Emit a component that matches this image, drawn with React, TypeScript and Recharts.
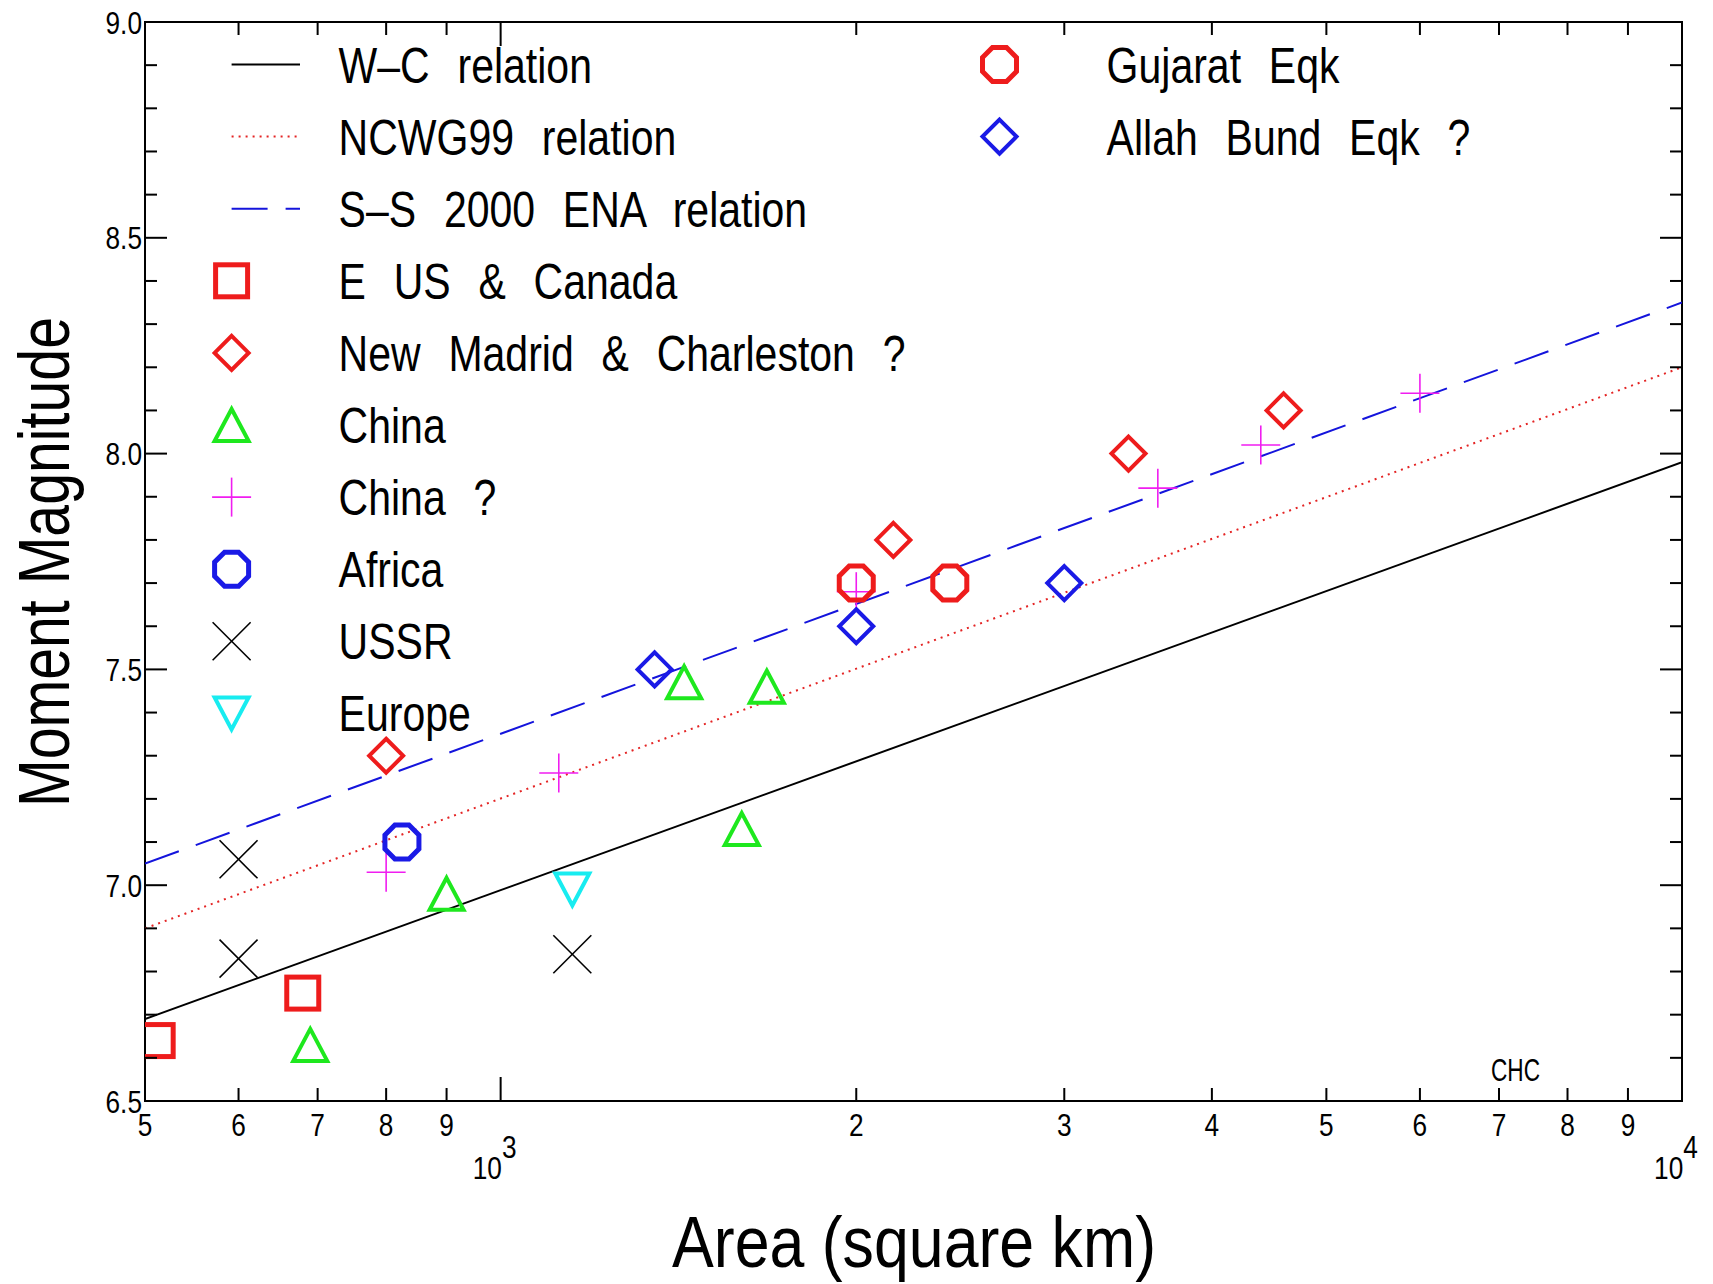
import React from "react";
import { ComposedChart, Scatter, Line, XAxis, YAxis, ReferenceArea } from "recharts";

const W = 1713;
const H = 1284;
const PLOT = { left: 145, right: 1682, top: 22, bottom: 1101 };
const FONT = '"Liberation Sans", Arial, sans-serif';
// labels are drawn horizontally condensed, like a plotter's stroke font
const SQUEEZE = 0.82;

const RED = "#ee1c1c";
const BLUE = "#1a1ae6";
const GREEN = "#1ee81e";
const MAGENTA = "#f01df0";
const CYAN = "#18ecf0";
const BLACK = "#000000";

// relations are straight on a log-area axis, so two end points each
const WC_LINE = [
  { area: 500, mag: 6.69 },
  { area: 10000, mag: 7.98 },
];
const NCWG99_LINE = [
  { area: 500, mag: 6.9 },
  { area: 10000, mag: 8.2 },
];
const SS2000_LINE = [
  { area: 500, mag: 7.05 },
  { area: 10000, mag: 8.35 },
];

// observed events: rupture area (km^2) vs moment magnitude
const EUS_CANADA = [
  { area: 512, mag: 6.64 },
  { area: 680, mag: 6.75 },
];
const NEW_MADRID = [
  { area: 800, mag: 7.3 },
  { area: 2150, mag: 7.8 },
  { area: 3400, mag: 8.0 },
  { area: 4600, mag: 8.1 },
];
const CHINA = [
  { area: 690, mag: 6.63 },
  { area: 900, mag: 6.98 },
  { area: 1430, mag: 7.47 },
  { area: 1600, mag: 7.13 },
  { area: 1680, mag: 7.46 },
];
const CHINA_Q = [
  { area: 800, mag: 7.03 },
  { area: 1120, mag: 7.26 },
  { area: 2000, mag: 7.68 },
  { area: 3600, mag: 7.92 },
  { area: 4400, mag: 8.02 },
  { area: 6000, mag: 8.14 },
];
const AFRICA = [{ area: 825, mag: 7.1 }];
const USSR = [
  { area: 600, mag: 7.06 },
  { area: 600, mag: 6.83 },
  { area: 1150, mag: 6.84 },
];
const EUROPE = [{ area: 1150, mag: 6.99 }];
const GUJARAT = [
  { area: 2000, mag: 7.7 },
  { area: 2400, mag: 7.7 },
];
const ALLAH_BUND = [
  { area: 1350, mag: 7.5 },
  { area: 2000, mag: 7.6 },
  { area: 3000, mag: 7.7 },
];

const X_TICKS = [500, 600, 700, 800, 900, 1000, 2000, 3000, 4000, 5000, 6000, 7000, 8000, 9000, 10000];
const X_TICK_LABELS = ["5", "6", "7", "8", "9", "10^3", "2", "3", "4", "5", "6", "7", "8", "9", "10^4"];
const Y_TICKS = [
  6.5, 6.6, 6.7, 6.8, 6.9, 7.0, 7.1, 7.2, 7.3, 7.4, 7.5, 7.6, 7.7, 7.8, 7.9,
  8.0, 8.1, 8.2, 8.3, 8.4, 8.5, 8.6, 8.7, 8.8, 8.9, 9.0,
];
const Y_TICK_LABELS = ["6.5", "7.0", "7.5", "8.0", "8.5", "9.0"];

type Kind = "square" | "diamond" | "triangle" | "triangleDown" | "plus" | "cross" | "octagon";

const SERIES: { name: string; data: { area: number; mag: number }[]; kind: Kind; color: string }[] = [
  { name: "E US & Canada", data: EUS_CANADA, kind: "square", color: RED },
  { name: "New Madrid & Charleston ?", data: NEW_MADRID, kind: "diamond", color: RED },
  { name: "China", data: CHINA, kind: "triangle", color: GREEN },
  { name: "China ?", data: CHINA_Q, kind: "plus", color: MAGENTA },
  { name: "Africa", data: AFRICA, kind: "octagon", color: BLUE },
  { name: "USSR", data: USSR, kind: "cross", color: BLACK },
  { name: "Europe", data: EUROPE, kind: "triangleDown", color: CYAN },
  { name: "Gujarat Eqk", data: GUJARAT, kind: "octagon", color: RED },
  { name: "Allah Bund Eqk ?", data: ALLAH_BUND, kind: "diamond", color: BLUE },
];

const LINES = [
  { name: "W\u2013C relation", data: WC_LINE, color: BLACK, width: 2, dash: undefined as string | undefined },
  { name: "NCWG99 relation", data: NCWG99_LINE, color: "#e42424", width: 2, dash: "2 5" },
  { name: "S\u2013S 2000 ENA relation", data: SS2000_LINE, color: "#1414dc", width: 2, dash: "36 18" },
];

function Marker({ kind, color, cx, cy }: { kind: Kind; color: string; cx: number; cy: number }) {
  switch (kind) {
    case "square":
      return <rect x={cx - 16} y={cy - 16} width={32} height={32} fill="none" stroke={color} strokeWidth={5} />;
    case "diamond":
      return (
        <path
          d={`M${cx},${cy - 17}L${cx + 17},${cy}L${cx},${cy + 17}L${cx - 17},${cy}Z`}
          fill="none"
          stroke={color}
          strokeWidth={4}
        />
      );
    case "triangle":
      return (
        <path
          d={`M${cx},${cy - 16}L${cx + 17},${cy + 16}L${cx - 17},${cy + 16}Z`}
          fill="none"
          stroke={color}
          strokeWidth={4}
        />
      );
    case "triangleDown":
      return (
        <path
          d={`M${cx},${cy + 16}L${cx + 17},${cy - 16}L${cx - 17},${cy - 16}Z`}
          fill="none"
          stroke={color}
          strokeWidth={4}
        />
      );
    case "plus":
      return (
        <g stroke={color} strokeWidth={1.6}>
          <line x1={cx - 19.5} y1={cy} x2={cx + 19.5} y2={cy} />
          <line x1={cx} y1={cy - 19.5} x2={cx} y2={cy + 19.5} />
        </g>
      );
    case "cross":
      return (
        <g stroke={color} strokeWidth={1.6}>
          <line x1={cx - 19} y1={cy - 19} x2={cx + 19} y2={cy + 19} />
          <line x1={cx - 19} y1={cy + 19} x2={cx + 19} y2={cy - 19} />
        </g>
      );
    case "octagon": {
      const r = 18.4;
      const pts = Array.from({ length: 8 }, (_, k) => {
        const a = ((22.5 + 45 * k) * Math.PI) / 180;
        return `${cx + r * Math.cos(a)},${cy + r * Math.sin(a)}`;
      }).join(" ");
      return <polygon points={pts} fill="none" stroke={color} strokeWidth={5} />;
    }
  }
  return null;
}

// condensed text anchored at (x, y)
function NText({
  x,
  y,
  size,
  anchor = "start",
  spacing = 0,
  children,
}: {
  x: number;
  y: number;
  size: number;
  anchor?: "start" | "middle" | "end";
  spacing?: number;
  children: React.ReactNode;
}) {
  return (
    <text
      transform={`translate(${x},${y}) scale(${SQUEEZE},1)`}
      textAnchor={anchor}
      fontFamily={FONT}
      fontSize={size}
      wordSpacing={spacing}
      fill="#000"
    >
      {children}
    </text>
  );
}

// bottom tick labels plus inward tick marks on bottom and top edges
function XTick(props: any) {
  const { x, payload } = props;
  const i = X_TICKS.indexOf(payload.value);
  const label = X_TICK_LABELS[i] ?? "";
  const decade = label.includes("^");
  const len = decade ? 24 : 13;
  const [base, exp] = label.split("^");
  return (
    <g>
      <line x1={x} y1={PLOT.bottom} x2={x} y2={PLOT.bottom - len} stroke="#000" strokeWidth={2} />
      <line x1={x} y1={PLOT.top} x2={x} y2={PLOT.top + len} stroke="#000" strokeWidth={2} />
      {decade ? (
        <NText x={x - 6} y={1179} size={32} anchor="middle">
          {base}
          <tspan dy={-21}>{exp}</tspan>
        </NText>
      ) : (
        <NText x={x} y={1136} size={32} anchor="middle">
          {label}
        </NText>
      )}
    </g>
  );
}

// left tick labels plus inward tick marks on left and right edges
function YTick(props: any) {
  const { y, payload } = props;
  const v: number = payload.value;
  const label = v.toFixed(1);
  const major = Y_TICK_LABELS.includes(label);
  const len = major ? 22 : 12;
  return (
    <g>
      <line x1={PLOT.left} y1={y} x2={PLOT.left + len} y2={y} stroke="#000" strokeWidth={2} />
      <line x1={PLOT.right} y1={y} x2={PLOT.right - len} y2={y} stroke="#000" strokeWidth={2} />
      {major && (
        <NText x={142} y={y + 11.5} size={32} anchor="end">
          {label}
        </NText>
      )}
    </g>
  );
}

const ROW_Y0 = 64.5;
const ROW_DY = 72.1;

function Overlay() {
  const leftRows = [
    ...LINES.map((l) => ({ type: "line" as const, ...l })),
    ...SERIES.slice(0, 7).map((s) => ({ type: "mark" as const, ...s })),
  ];
  const rightRows = SERIES.slice(7);
  return (
    <svg width={W} height={H} style={{ position: "absolute", left: 0, top: 0, pointerEvents: "none" }}>
      {leftRows.map((r, i) => {
        const y = ROW_Y0 + i * ROW_DY;
        return (
          <g key={r.name}>
            {r.type === "line" ? (
              <line
                x1={231.6}
                y1={y}
                x2={300}
                y2={y}
                stroke={r.color}
                strokeWidth={r.width}
                strokeDasharray={r.dash}
              />
            ) : (
              <Marker kind={r.kind} color={r.color} cx={231.6} cy={y} />
            )}
            <NText x={338.6} y={y + 18} size={50} spacing={20}>
              {r.name}
            </NText>
          </g>
        );
      })}
      {rightRows.map((s, i) => {
        const y = ROW_Y0 + i * ROW_DY;
        return (
          <g key={s.name}>
            <Marker kind={s.kind} color={s.color} cx={999.5} cy={y} />
            <NText x={1106.6} y={y + 18} size={50} spacing={20}>
              {s.name}
            </NText>
          </g>
        );
      })}
      <text
        transform="translate(69, 562) rotate(-90)"
        textAnchor="middle"
        fontFamily={FONT}
        fontSize={72}
        textLength={490}
        lengthAdjust="spacingAndGlyphs"
        fill="#000"
      >
        Moment Magnitude
      </text>
      <text
        x={914}
        y={1267}
        textAnchor="middle"
        fontFamily={FONT}
        fontSize={72}
        textLength={484}
        lengthAdjust="spacingAndGlyphs"
        fill="#000"
      >
        Area (square km)
      </text>
      <text x={1491} y={1081} fontFamily={FONT} fontSize={32} textLength={49} lengthAdjust="spacingAndGlyphs" fill="#000">
        CHC
      </text>
    </svg>
  );
}

export default function App() {
  return (
    <div style={{ position: "absolute", left: 0, top: 0, width: W, height: H, background: "#fff" }}>
      <ComposedChart width={W} height={H} margin={{ top: PLOT.top, right: W - PLOT.right, left: 0, bottom: 0 }}>
        <XAxis
          dataKey="area"
          type="number"
          scale="log"
          domain={[500, 10000]}
          allowDataOverflow
          ticks={X_TICKS}
          interval={0}
          height={H - PLOT.bottom}
          tick={<XTick />}
          tickLine={false}
          axisLine={false}
        />
        <YAxis
          dataKey="mag"
          type="number"
          domain={[6.5, 9]}
          allowDataOverflow
          ticks={Y_TICKS}
          interval={0}
          width={PLOT.left}
          tick={<YTick />}
          tickLine={false}
          axisLine={false}
        />
        <ReferenceArea
          x1={500}
          x2={10000}
          y1={6.5}
          y2={9}
          fill="none"
          fillOpacity={0}
          stroke="#000"
          strokeWidth={2}
          ifOverflow="visible"
        />
        {LINES.map((l) => (
          <Line
            key={l.name}
            data={l.data}
            dataKey="mag"
            type="linear"
            stroke={l.color}
            strokeWidth={l.width}
            strokeDasharray={l.dash}
            dot={false}
            activeDot={false}
            isAnimationActive={false}
          />
        ))}
        {SERIES.map((s) => (
          <Scatter
            key={s.name}
            name={s.name}
            data={s.data}
            isAnimationActive={false}
            shape={(p: any) => <Marker kind={s.kind} color={s.color} cx={p.cx} cy={p.cy} />}
          />
        ))}
      </ComposedChart>
      <Overlay />
    </div>
  );
}
